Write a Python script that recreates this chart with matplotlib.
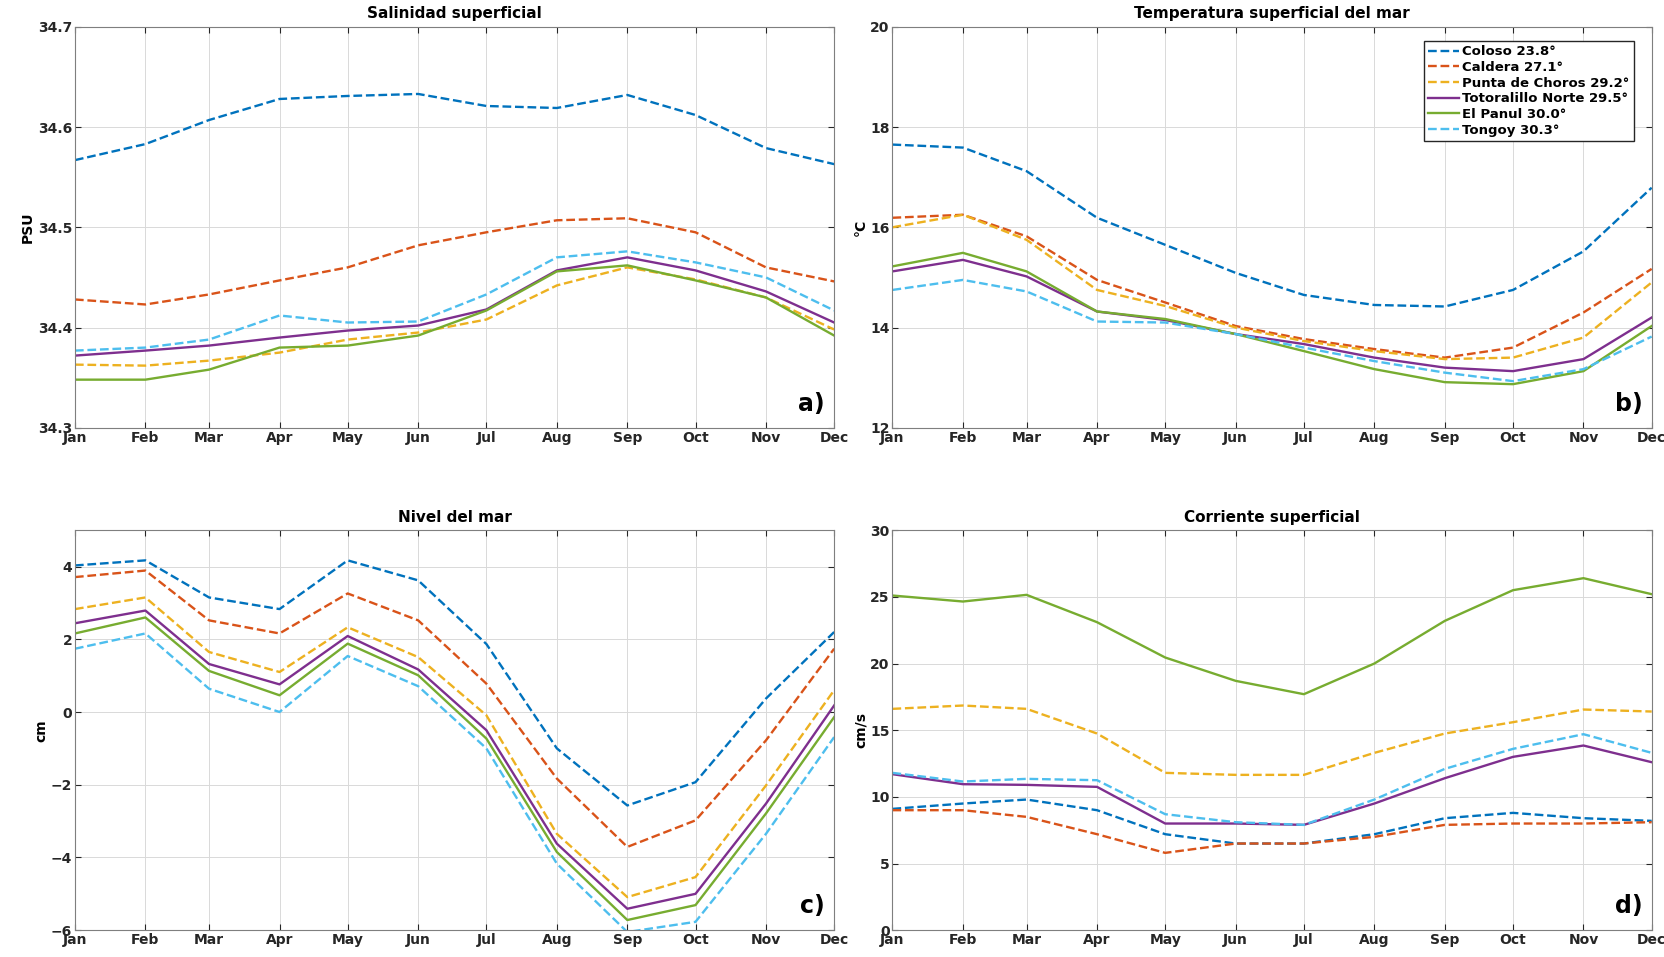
import numpy as np
import pandas as pd
import matplotlib
matplotlib.use('Agg')
import matplotlib.pyplot as plt

# months (first day of each month, so spacing follows month length)
months = pd.date_range('2001-01-01', periods=12, freq='MS')
month_labels = ['Jan', 'Feb', 'Mar', 'Apr', 'May', 'Jun', 'Jul', 'Aug', 'Sep', 'Oct', 'Nov', 'Dec']

stations = ['Coloso 23.8°', 'Caldera 27.1°', 'Punta de Choros 29.2°',
            'Totoralillo Norte 29.5°', 'El Panul 30.0°', 'Tongoy 30.3°']

# a) salinidad (PSU)
sal_coloso = [34.567, 34.583, 34.607, 34.628, 34.631, 34.633, 34.621, 34.619, 34.632, 34.612, 34.579, 34.563]
sal_caldera = [34.428, 34.423, 34.433, 34.447, 34.460, 34.482, 34.495, 34.507, 34.509, 34.495, 34.460, 34.446]
sal_choros = [34.363, 34.362, 34.367, 34.375, 34.388, 34.395, 34.408, 34.442, 34.460, 34.448, 34.430, 34.398]
sal_totoralillo = [34.372, 34.377, 34.382, 34.390, 34.397, 34.402, 34.418, 34.457, 34.470, 34.457, 34.436, 34.405]
sal_panul = [34.348, 34.348, 34.358, 34.380, 34.382, 34.392, 34.417, 34.456, 34.462, 34.447, 34.430, 34.392]
sal_tongoy = [34.377, 34.380, 34.388, 34.412, 34.405, 34.406, 34.433, 34.470, 34.476, 34.465, 34.450, 34.417]

# b) temperatura (C)
sst_coloso = [17.65, 17.59, 17.12, 16.19, 15.65, 15.09, 14.65, 14.45, 14.42, 14.75, 15.52, 16.79]
sst_caldera = [16.19, 16.25, 15.82, 14.95, 14.50, 14.03, 13.77, 13.57, 13.40, 13.60, 14.30, 15.17]
sst_choros = [16.00, 16.25, 15.75, 14.75, 14.43, 14.00, 13.73, 13.53, 13.37, 13.40, 13.80, 14.90]
sst_totoralillo = [15.12, 15.35, 15.02, 14.32, 14.15, 13.87, 13.67, 13.40, 13.20, 13.13, 13.37, 14.20]
sst_panul = [15.22, 15.49, 15.12, 14.32, 14.17, 13.87, 13.53, 13.17, 12.91, 12.87, 13.13, 14.03]
sst_tongoy = [14.75, 14.95, 14.72, 14.12, 14.10, 13.87, 13.60, 13.33, 13.10, 12.93, 13.17, 13.82]

# c) nivel del mar (cm)
sla_coloso = [4.03, 4.17, 3.15, 2.83, 4.17, 3.62, 1.87, -1.00, -2.57, -1.93, 0.37, 2.20]
sla_caldera = [3.71, 3.89, 2.52, 2.16, 3.26, 2.52, 0.78, -1.83, -3.71, -2.98, -0.78, 1.74]
sla_choros = [2.83, 3.15, 1.65, 1.10, 2.33, 1.51, -0.09, -3.35, -5.09, -4.54, -2.02, 0.60]
sla_totoralillo = [2.44, 2.79, 1.32, 0.76, 2.09, 1.17, -0.50, -3.62, -5.41, -5.00, -2.52, 0.18]
sla_panul = [2.16, 2.60, 1.13, 0.46, 1.88, 1.01, -0.73, -3.85, -5.72, -5.31, -2.79, -0.14]
sla_tongoy = [1.74, 2.16, 0.64, 0.00, 1.54, 0.71, -1.00, -4.17, -6.05, -5.77, -3.35, -0.69]

# d) corriente superficial (cm/s)
cur_coloso = [9.1, 9.5, 9.8, 9.0, 7.2, 6.5, 6.5, 7.2, 8.4, 8.8, 8.4, 8.2]
cur_caldera = [9.0, 9.0, 8.5, 7.2, 5.8, 6.5, 6.5, 7.0, 7.9, 8.0, 8.0, 8.1]
cur_choros = [16.6, 16.85, 16.6, 14.75, 11.8, 11.65, 11.65, 13.3, 14.75, 15.6, 16.55, 16.4]
cur_totoralillo = [11.7, 10.95, 10.9, 10.75, 8.0, 8.0, 7.9, 9.5, 11.4, 13.0, 13.85, 12.6]
cur_panul = [25.1, 24.65, 25.15, 23.1, 20.45, 18.7, 17.7, 20.0, 23.2, 25.5, 26.4, 25.2]
cur_tongoy = [11.8, 11.15, 11.35, 11.25, 8.7, 8.1, 7.9, 9.8, 12.1, 13.6, 14.7, 13.3]

colors = ['#0072BD', '#D95319', '#EDB120', '#7E2F8E', '#77AC30', '#4DBEEE']
styles = ['--', '--', '--', '-', '-', '--']

plt.rcParams['font.family'] = 'DejaVu Sans'
plt.rcParams['font.weight'] = 'bold'
plt.rcParams['font.size'] = 10

fig = plt.figure(figsize=(16.65, 9.57), dpi=100)
ax_a = fig.add_axes([0.045, 0.553, 0.456, 0.419])
ax_b = fig.add_axes([0.536, 0.553, 0.456, 0.419])
ax_c = fig.add_axes([0.045, 0.028, 0.456, 0.418])
ax_d = fig.add_axes([0.536, 0.028, 0.456, 0.418])

panels = [
    (ax_a, [sal_coloso, sal_caldera, sal_choros, sal_totoralillo, sal_panul, sal_tongoy],
     'Salinidad superficial', 'PSU', (34.3, 34.7), np.arange(34.3, 34.71, 0.1), 'a)'),
    (ax_b, [sst_coloso, sst_caldera, sst_choros, sst_totoralillo, sst_panul, sst_tongoy],
     'Temperatura superficial del mar', '°C', (12, 20), np.arange(12, 21, 2), 'b)'),
    (ax_c, [sla_coloso, sla_caldera, sla_choros, sla_totoralillo, sla_panul, sla_tongoy],
     'Nivel del mar', 'cm', (-6, 5), np.arange(-6, 5, 2), 'c)'),
    (ax_d, [cur_coloso, cur_caldera, cur_choros, cur_totoralillo, cur_panul, cur_tongoy],
     'Corriente superficial', 'cm/s', (0, 30), np.arange(0, 31, 5), 'd)'),
]

for ax, series, title, ylabel, ylim, yticks, tag in panels:
    for vals, name, c, ls in zip(series, stations, colors, styles):
        ax.plot(months, vals, ls, color=c, lw=1.7, label=name)
    ax.set_xlim(months[0], months[-1])
    ax.set_xticks(months)
    ax.set_xticklabels(month_labels)
    ax.set_ylim(*ylim)
    ax.set_yticks(yticks)
    if ylabel == 'PSU':
        ax.set_yticklabels(['%.1f' % v for v in yticks])
    ax.set_title(title, fontsize=11, fontweight='bold', pad=6)
    ax.set_ylabel(ylabel, fontsize=10, fontweight='bold', labelpad=2)
    ax.grid(True, color='#d9d9d9', lw=0.7)
    ax.tick_params(direction='in', length=4, top=True, right=True, colors='#262626',
                   labelsize=10, pad=2)
    for sp in ax.spines.values():
        sp.set_color('#7f7f7f')
    ax.text(0.988, 0.03, tag, transform=ax.transAxes, ha='right', va='bottom',
            fontsize=17, fontweight='bold')

leg = ax_b.legend(loc='upper right', fontsize=9.5, handlelength=2.3, handletextpad=0.3,
                  borderpad=0.3, labelspacing=0.2, fancybox=False, framealpha=1,
                  bbox_to_anchor=(0.985, 0.98))
leg.get_frame().set_edgecolor('#262626')
for t in leg.get_texts():
    t.set_fontweight('bold')

fig.savefig('out.png', dpi=100)
